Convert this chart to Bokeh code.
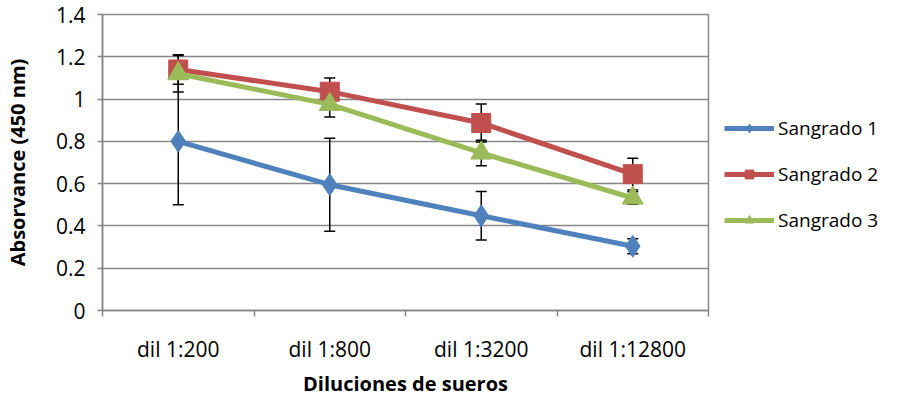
from bokeh.plotting import figure
from bokeh.models import (ColumnDataSource, Whisker, TeeHead, FixedTicker, Legend, LegendItem,
                          CustomJSTickFormatter, Range1d)
from bokeh.embed import file_html
from bokeh.resources import INLINE

categories = ["dil 1:200", "dil 1:800", "dil 1:3200", "dil 1:12800"]
series_names = ["Sangrado 1", "Sangrado 2", "Sangrado 3"]
sangrado1 = [0.80, 0.595, 0.448, 0.304]
sangrado2 = [1.14, 1.035, 0.887, 0.645]
sangrado3 = [1.12, 0.975, 0.745, 0.532]
err1 = [0.30, 0.22, 0.115, 0.035]
err2 = [0.07, 0.065, 0.09, 0.075]
err3 = [0.086, 0.06, 0.06, 0.03]
y_ticks = [0, 0.2, 0.4, 0.6, 0.8, 1.0, 1.2, 1.4]

colors = ["#4F81BD", "#C0504D", "#9BBB59"]
markers = ["diamond", "square", "triangle"]
msizes = [22, 19, 21]
FONT = "Open Sans"

x_pos = [i + 0.5 for i in range(len(categories))]
bounds = [i for i in range(len(categories) + 1)]

FW, FH = 606, 296
p = figure(frame_width=FW, frame_height=FH, output_backend="svg", toolbar_location=None,
           x_range=Range1d(0, len(categories)), y_range=Range1d(y_ticks[0], y_ticks[-1]),
           min_border_left=102, min_border_right=180, min_border_top=14, min_border_bottom=78,
           background_fill_color="white", border_fill_color="white")

grid_c = "#878787"
p.outline_line_color = grid_c
p.outline_line_width = 1.5
p.xgrid.grid_line_color = None
p.ygrid.grid_line_color = grid_c
p.ygrid.grid_line_width = 1.5

# axes
p.yaxis.ticker = FixedTicker(ticks=y_ticks)
p.yaxis.formatter = CustomJSTickFormatter(code="return String(Math.round(tick*10)/10)")
p.yaxis.axis_label = "Absorvance (450 nm)"
p.xaxis.ticker = FixedTicker(ticks=x_pos, minor_ticks=bounds)
p.xaxis.major_label_overrides = {x: c for x, c in zip(x_pos, categories)}
p.xaxis.axis_label = "Diluciones de sueros"

for ax in (p.xaxis[0], p.yaxis[0]):
    ax.axis_line_color = grid_c
    ax.axis_line_width = 1.5
    ax.major_label_text_font = FONT
    ax.major_label_text_font_size = "21px"
    ax.major_label_text_color = "black"
    ax.axis_label_text_font = FONT
    ax.axis_label_text_font_size = "20px"
    ax.axis_label_text_font_style = "bold"
    ax.axis_label_text_color = "black"

p.yaxis.major_tick_line_color = grid_c
p.yaxis.major_tick_line_width = 1.5
p.yaxis.major_tick_out = 5
p.yaxis.major_tick_in = 0
p.yaxis.minor_tick_line_color = None
p.yaxis.major_label_standoff = 12
p.yaxis.axis_label_standoff = 22

p.xaxis.major_tick_line_color = None
p.xaxis.major_tick_out = 0
p.xaxis.major_tick_in = 0
p.xaxis.minor_tick_line_color = grid_c
p.xaxis.minor_tick_line_width = 1.5
p.xaxis.minor_tick_out = 6
p.xaxis.minor_tick_in = 0
p.xaxis.major_label_standoff = 18
p.xaxis.axis_label_standoff = 4

values = [sangrado1, sangrado2, sangrado3]
errs = [err1, err2, err3]

# error bars (behind the series)
for v, e in zip(values, errs):
    src = ColumnDataSource(dict(x=x_pos, lower=[a - b for a, b in zip(v, e)],
                                upper=[a + b for a, b in zip(v, e)]))
    w = Whisker(base="x", lower="lower", upper="upper", source=src,
                line_color="black", line_width=1.5, level="underlay",
                upper_head=TeeHead(size=11, line_color="black", line_width=1.5),
                lower_head=TeeHead(size=11, line_color="black", line_width=1.5))
    p.add_layout(w)

items = []
for name, v, c, m, s in zip(series_names, values, colors, markers, msizes):
    src = ColumnDataSource(dict(x=x_pos, y=v))
    ln = p.line("x", "y", source=src, line_color=c, line_width=5)
    sc = p.scatter("x", "y", source=src, marker=m, size=s, fill_color=c, line_color=c)
    items.append(LegendItem(label=name, renderers=[ln, sc]))

legend = Legend(items=items, location="center_left", border_line_color=None,
                background_fill_alpha=0, label_text_font=FONT, label_text_font_size="19px",
                label_text_color="black", glyph_width=50, glyph_height=22, spacing=20,
                label_standoff=4, padding=0, margin=16,
                title=" ", title_text_font_size="14px", title_standoff=8)
p.add_layout(legend, "right")

open("out.html", "w").write(file_html(p, INLINE))
